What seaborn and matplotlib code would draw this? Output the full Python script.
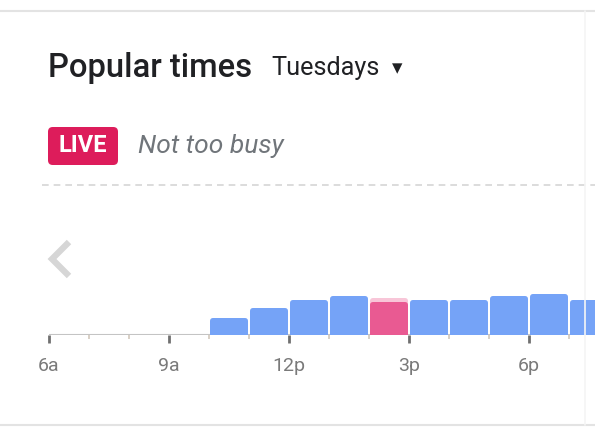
import matplotlib
matplotlib.use("Agg")
import matplotlib.pyplot as plt
import seaborn as sns
import pandas as pd
from matplotlib.patches import FancyBboxPatch
from matplotlib.lines import Line2D

# ---- data ----
hours = [6, 7, 8, 9, 10, 11, 12, 13, 14, 15, 16, 17, 18, 19]
busyness = [0, 0, 0, 0, 17, 27, 35, 39, 33, 35, 35, 39, 41, 35]
usual_live_hour = 14
usual_live_value = 37
tick_hours = [6, 9, 12, 15, 18]
tick_labels = ["6a", "9a", "12p", "3p", "6p"]
title = "Popular times"
day_label = "Tuesdays"
live_label = "LIVE"
live_status = "Not too busy"

W, H = 595, 432
fig = plt.figure(figsize=(W / 100, H / 100), dpi=100)
sns.set_style("white")
plt.rcParams['font.family'] = ['Roboto', 'DejaVu Sans']

BLUE = "#75a3f7"
PINK = "#e95a92"
LIGHTPINK = "#f8c6d8"
GRAY_TXT = "#70757a"

# axes: left at x=49px, baseline at y=335px, 40px per hour
left_px, base_px, top_px = 49, 335, 215
ax = fig.add_axes([left_px / W, (H - base_px) / H, (W - left_px) / W, (base_px - top_px) / H])
x0 = 6
x1 = 6 + (W - left_px) / 40.0

df = pd.DataFrame({"hour": [h + 0.5 for h in hours], "busy": busyness,
                   "live": [h == usual_live_hour for h in hours]})

# usual level behind live bar
ax.bar([usual_live_hour + 0.5], [usual_live_value], width=0.95, color=LIGHTPINK, zorder=1)
sns.barplot(data=df, x="hour", y="busy", hue="live", palette={False: BLUE, True: PINK},
            native_scale=True, width=0.95, dodge=False, legend=False, saturation=1,
            ax=ax, zorder=2)

# round top corners of bars
for p in list(ax.patches):
    x, y, w, h = p.get_x(), p.get_y(), p.get_width(), p.get_height()
    if h <= 0:
        p.remove()
        continue
    fb = FancyBboxPatch((x, -6), w, h + 6, boxstyle="round,pad=0,rounding_size=0.08",
                        mutation_aspect=40, facecolor=p.get_facecolor(), edgecolor="none",
                        zorder=p.get_zorder())
    p.remove()
    ax.add_patch(fb)

ax.set_xlim(x0, x1)
ax.set_ylim(0, base_px - top_px)
for s in ax.spines.values():
    s.set_visible(False)
ax.set_xlabel("")
ax.set_ylabel("")
ax.set_yticks([])
ax.patch.set_alpha(0)

# baseline
ax.axhline(0, color="#c4c4c4", lw=1.5, zorder=0)

ax.set_xticks(tick_hours)
ax.set_xticklabels(tick_labels, fontsize=14, color="#7a7a7a")
ax.set_xticks(hours, minor=True)
ax.tick_params(axis="x", which="major", length=6, width=2, color="#707070", pad=10, direction="out")
ax.tick_params(axis="x", which="minor", length=3, width=1.2, color="#d2c8bc", direction="out")
ax.tick_params(axis="x", which="both", bottom=True)

# ---- header texts ----
fig.text(48 / W, 1 - 68 / H, title, fontsize=23.6, color="#202124", va="center", ha="left",
         fontweight="medium")
fig.text(271 / W, 1 - 68 / H, day_label, fontsize=18.2, color="#202124", va="center", ha="left")
fig.text(397 / W, 1 - 68 / H, "▾", fontsize=15, color="#202124", va="center", ha="center",
         family=["DejaVu Sans"])

# LIVE badge
badge = FancyBboxPatch((48 / W, 1 - 165 / H), 70 / W, 38 / H,
                       boxstyle="round,pad=0,rounding_size=0.008", transform=fig.transFigure,
                       facecolor="#dd1c5b", edgecolor="none", mutation_aspect=W / H)
fig.patches.append(badge)
fig.text(83 / W, 1 - 146 / H, live_label, fontsize=17, color="white", fontweight="bold",
         va="center", ha="center", family=["Roboto", "DejaVu Sans"])
fig.text(138 / W, 1 - 146 / H, live_status, fontsize=19, color=GRAY_TXT, style="italic",
         va="center", ha="left")

# dashed separator
fig.add_artist(Line2D([42 / W, 1], [1 - 185 / H] * 2, transform=fig.transFigure,
                      color="#d5d5d5", lw=1.2, linestyle=(0, (4, 3))))
# top / bottom borders
fig.add_artist(Line2D([0, 1], [1 - 11 / H] * 2, transform=fig.transFigure, color="#e3e3e3", lw=1.5))
fig.add_artist(Line2D([0, 1], [1 - 425 / H] * 2, transform=fig.transFigure, color="#e3e3e3", lw=1.5))
fig.add_artist(Line2D([585 / W] * 2, [1 - 11 / H, 1 - 425 / H], transform=fig.transFigure,
                      color="#f5f5f5", lw=1.2))
# left chevron
fig.add_artist(Line2D([69 / W, 52 / W, 69 / W], [1 - 242 / H, 1 - 259 / H, 1 - 276 / H],
                      transform=fig.transFigure, color="#d6d6d6", lw=4.5,
                      solid_capstyle="butt", solid_joinstyle="miter"))

fig.savefig("out.png", dpi=100, facecolor="white")
